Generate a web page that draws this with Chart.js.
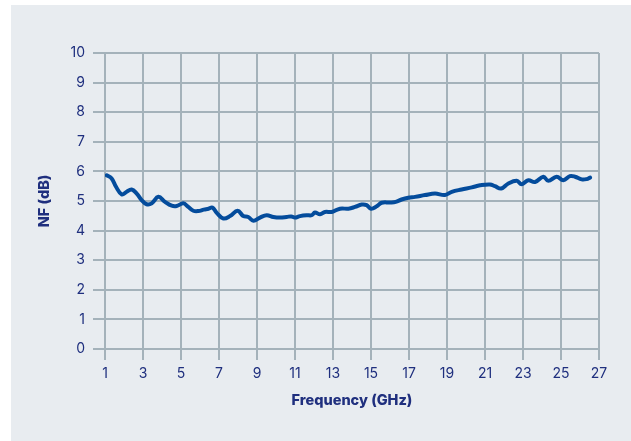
<!DOCTYPE html>
<html>
<head>
<meta charset="utf-8">
<script src="https://cdn.jsdelivr.net/npm/chart.js@4.4.1/dist/chart.umd.min.js"></script>
<style>
  html, body { margin: 0; padding: 0; background: #ffffff; }
  body { width: 631px; height: 441px; position: relative; overflow: hidden; }
  #panel { position: absolute; left: 11px; top: 5px; right: 0; bottom: 0; background: #e8ecf0; }
  #wrap { position: absolute; left: 0; top: 0; width: 631px; height: 441px; }
</style>
</head>
<body>
<div id="panel"></div>
<div id="wrap"><canvas id="nf"></canvas></div>
<script>
// Noise figure sweep, frequency in GHz
const freqGHz = [1.09, 1.35, 1.58, 1.88, 2.14, 2.4, 2.67, 2.93, 3.19, 3.46, 3.81, 4.16, 4.51, 4.77, 5.12, 5.38, 5.65, 5.91,
  6.2, 6.45, 6.65, 6.88, 7.23, 7.58, 7.98, 8.28, 8.54, 8.81, 9.16, 9.51, 9.86, 10.21, 10.56, 10.8, 11.0, 11.26, 11.61, 11.88,
  12.05, 12.32, 12.58, 12.93, 13.37, 13.81, 14.16, 14.51, 14.77, 15.0, 15.3, 15.56, 16.0, 16.3, 16.61, 16.96, 17.32, 17.84,
  18.37, 18.89, 19.25, 19.77, 20.3, 20.74, 21.26, 21.53, 21.85, 22.23, 22.67, 22.93, 23.28, 23.63, 24.07, 24.33, 24.77,
  25.12, 25.47, 25.74, 26.09, 26.35, 26.53];
// NF in dB
const nfDb = [5.87, 5.76, 5.48, 5.22, 5.31, 5.39, 5.25, 5.03, 4.89, 4.92, 5.14, 4.97, 4.84, 4.83, 4.92, 4.80, 4.67, 4.66,
  4.71, 4.74, 4.78, 4.60, 4.41, 4.49, 4.67, 4.49, 4.46, 4.33, 4.44, 4.52, 4.46, 4.44, 4.46, 4.48, 4.44, 4.49, 4.52, 4.52,
  4.61, 4.55, 4.63, 4.63, 4.74, 4.74, 4.80, 4.88, 4.86, 4.74, 4.82, 4.94, 4.95, 4.97, 5.05, 5.11, 5.14, 5.20,
  5.25, 5.20, 5.31, 5.39, 5.46, 5.53, 5.56, 5.50, 5.42, 5.59, 5.68, 5.57, 5.70, 5.64, 5.82, 5.68, 5.82,
  5.70, 5.84, 5.82, 5.73, 5.74, 5.79];

const xTicks = [1, 3, 5, 7, 9, 11, 13, 15, 17, 19, 21, 23, 25, 27];
const yTicks = [0, 1, 2, 3, 4, 5, 6, 7, 8, 9, 10];

const gridColor = '#a4b2ba';
const textColor = '#1f2f7e';
const lineColor = '#044c9c';

new Chart(document.getElementById('nf'), {
  type: 'line',
  data: {
    datasets: [{
      data: freqGHz.map((f, i) => ({ x: f, y: nfDb[i] })),
      borderColor: lineColor,
      borderWidth: 4,
      pointRadius: 0,
      tension: 0.4,
      fill: false,
      borderCapStyle: 'round',
      borderJoinStyle: 'round'
    }]
  },
  options: {
    responsive: true,
    maintainAspectRatio: false,
    animation: false,
    layout: { padding: { left: 0, top: 53, right: 32, bottom: 0 } },
    plugins: { legend: { display: false }, tooltip: { enabled: false } },
    scales: {
      x: {
        type: 'linear',
        min: 1, max: 27,
        afterBuildTicks: s => { s.ticks = xTicks.map(v => ({ value: v })); },
        afterFit: s => { s.height = 92; },
        grid: { color: gridColor, lineWidth: 2, tickLength: 11, tickColor: gridColor },
        border: { color: gridColor, width: 2 },
        ticks: { color: textColor, font: { family: 'Inter', size: 14 }, padding: 5, maxRotation: 0, autoSkip: false },
        title: { display: true, text: 'Frequency (GHz)', color: textColor, font: { family: 'Inter', size: 14.5, weight: 800 }, padding: { top: 0, bottom: 32 } }
      },
      y: {
        type: 'linear',
        min: 0, max: 10,
        afterBuildTicks: s => { s.ticks = yTicks.map(v => ({ value: v })); },
        afterFit: s => { s.width = 105; },
        grid: { color: gridColor, lineWidth: 2, tickLength: 12, tickColor: gridColor },
        border: { color: gridColor, width: 2 },
        ticks: { color: textColor, font: { family: 'Inter', size: 14 }, padding: 8 },
        title: { display: true, text: 'NF (dB)', color: textColor, font: { family: 'Inter', size: 14.5, weight: 800 }, padding: { top: 36, bottom: 0 } }
      }
    }
  }
});
</script>
</body>
</html>
